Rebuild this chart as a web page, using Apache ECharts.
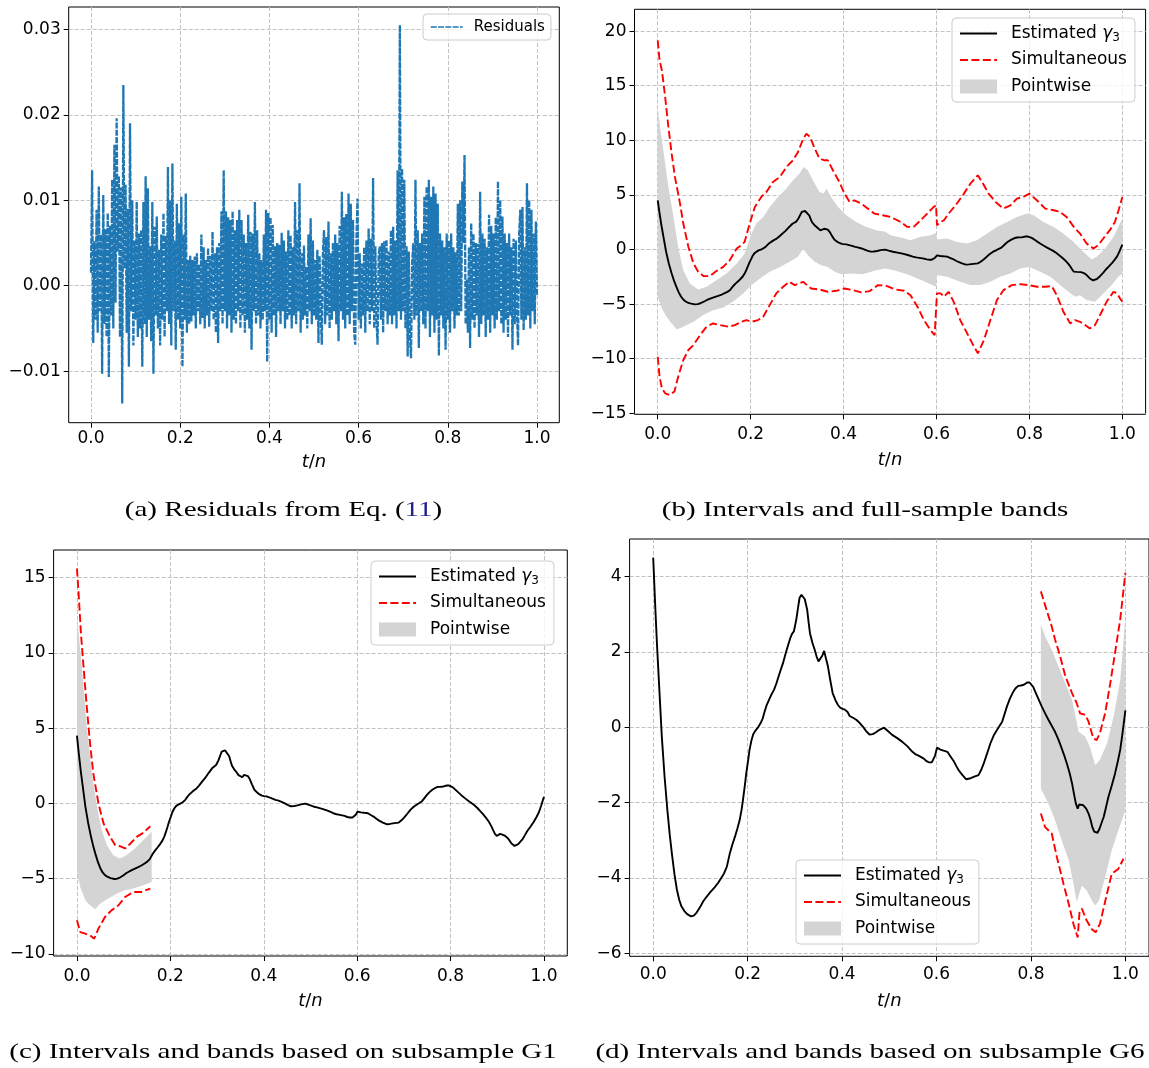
<!DOCTYPE html>
<html>
<head>
<meta charset="utf-8">
<script src="https://cdn.jsdelivr.net/npm/echarts@6/dist/echarts.min.js"></script>
<style>
  html, body { margin: 0; padding: 0; background: #fff; }
  #chart { width: 1149px; height: 1068px; }
</style>
</head>
<body>
<div id="chart"></div>
<script>
// ---------- tick values ----------
const xTicks = [0, 0.2, 0.4, 0.6, 0.8, 1.0];
const residTicks = [-0.01, 0, 0.01, 0.02, 0.03];
const fullTicks = [-15, -10, -5, 0, 5, 10, 15, 20];
const g1Ticks = [-10, -5, 0, 5, 10, 15];
const g6Ticks = [-6, -4, -2, 0, 2, 4];

// ---------- residuals of Eq. (11), evenly spaced over t/n in [0, 1] ----------
const residuals = [
  .0015,.0135,-.0067,.0052,-.0040,.0089,-.0055,.0116,-.0030,.0060,
  -.0103,.0106,-.0045,.0066,-.0060,.0085,-.0107,.0070,-.0035,.0124,
  -.0050,.0165,-.0020,.0196,.0040,.0128,-.0060,.0115,-.0138,.0235,
  .0020,.0118,-.0055,.0090,-.0095,.0190,-.0030,.0100,-.0070,.0053,
  -.0040,.0098,-.0060,.0061,-.0050,.0065,-.0095,.0098,-.0045,.0128,
  -.0060,.0114,-.0040,.0046,-.0065,.0098,-.0103,.0069,-.0035,.0081,
  -.0050,.0042,-.0070,.0060,-.0040,.0085,-.0060,.0058,-.0030,.0139,
  -.0045,.0100,-.0070,.0143,-.0030,.0053,-.0075,.0096,-.0040,.0073,
  -.0050,.0104,-.0095,.0060,-.0040,.0108,-.0055,.0030,-.0045,.0035,
  -.0042,.0030,-.0035,.0034,-.0050,.0038,-.0030,.0025,-.0045,.0060,
  -.0038,.0045,-.0050,.0030,-.0035,.0044,-.0048,.0035,-.0030,.0063,
  -.0040,.0038,-.0055,.0045,-.0067,.0050,-.0030,.0087,-.0045,.0135,
  -.0030,.0087,-.0050,.0080,-.0035,.0077,-.0055,.0087,-.0040,.0065,
  -.0045,.0077,-.0030,.0089,-.0050,.0077,-.0035,.0060,-.0055,.0050,
  -.0040,.0083,-.0050,.0063,-.0075,.0061,-.0030,.0098,-.0045,.0065,
  -.0035,.0038,-.0050,.0030,-.0040,.0060,-.0030,.0089,-.0089,.0085,
  -.0040,.0080,-.0055,.0071,-.0035,.0046,-.0060,.0050,-.0030,.0048,
  -.0045,.0062,-.0030,.0053,-.0050,.0040,-.0040,.0065,-.0035,.0059,
  -.0050,.0045,-.0035,.0098,-.0045,.0065,-.0030,.0120,-.0055,.0038,
  -.0040,.0047,-.0035,.0022,-.0050,.0060,-.0030,.0079,-.0045,.0053,
  -.0035,.0030,-.0040,.0042,-.0067,.0035,-.0030,-.0069,.0040,.0065,
  -.0045,.0057,-.0035,.0075,-.0050,.0038,-.0040,.0050,-.0030,.0060,
  -.0045,.0050,-.0065,.0070,-.0030,.0110,-.0040,.0080,-.0050,.0084,
  -.0035,.0108,-.0045,.0096,-.0030,.0077,-.0055,-.0069,.0050,.0102,
  -.0040,.0038,-.0050,.0026,-.0035,.0045,-.0055,.0053,-.0030,.0067,
  -.0045,.0055,-.0030,.0126,-.0050,.0046,-.0040,-.0069,.0035,.0046,
  -.0040,.0050,-.0055,.0052,-.0030,.0054,-.0045,.0040,-.0035,.0065,
  -.0045,.0069,-.0035,.0053,-.0050,.0135,-.0030,.0305,-.0040,.0137,
  -.0030,.0124,-.0050,.0046,-.0083,.0040,-.0060,-.0085,.0026,.0050,
  -.0040,.0124,-.0035,.0065,-.0073,.0050,-.0030,.0061,-.0045,.0104,
  -.0050,.0116,-.0030,.0124,-.0060,.0104,-.0035,.0116,-.0055,.0108,
  -.0040,.0096,-.0082,.0061,-.0035,.0053,-.0050,.0045,-.0075,.0061,
  -.0040,.0053,-.0055,.0061,-.0030,.0045,-.0050,.0039,-.0035,.0096,
  -.0035,.0100,-.0030,.0122,.0050,.0153,-.0045,.0007,-.0055,.0045,
  -.0073,.0073,-.0040,.0061,-.0050,.0050,-.0035,.0049,-.0060,.0110,
  -.0045,.0061,-.0035,.0055,-.0060,.0045,-.0040,.0083,-.0055,.0070,
  -.0035,.0061,-.0050,.0080,-.0040,.0122,-.0030,.0100,-.0045,.0081,
  -.0055,.0061,-.0040,.0050,-.0060,.0061,-.0035,.0045,-.0075,.0055,
  -.0045,.0053,-.0030,-.0070,.0060,.0089,-.0040,.0092,-.0052,.0045,
  -.0040,.0120,-.0035,.0100,-.0050,.0089,-.0030,.0061,-.0045,.0075,
  -.0012
];

// ---------- estimated gamma_3 as [t/n, value] ----------
const gammaHat = [
  [0.000,4.50],[0.004,3.30],[0.008,2.20],[0.013,1.00],[0.018,-0.20],[0.024,-1.30],
  [0.030,-2.20],[0.035,-2.85],[0.040,-3.40],[0.045,-3.90],[0.050,-4.30],[0.055,-4.58],
  [0.060,-4.76],[0.066,-4.88],[0.072,-4.96],[0.080,-5.02],[0.086,-5.00],[0.092,-4.92],
  [0.099,-4.78],[0.106,-4.62],[0.113,-4.50],[0.122,-4.36],[0.130,-4.25],[0.138,-4.12],
  [0.144,-4.00],[0.150,-3.88],[0.156,-3.70],[0.162,-3.36],[0.168,-3.10],[0.173,-2.91],
  [0.178,-2.70],[0.183,-2.47],[0.187,-2.20],[0.190,-1.94],[0.194,-1.55],[0.197,-1.23],
  [0.201,-0.88],[0.204,-0.60],[0.208,-0.35],[0.212,-0.18],[0.217,-0.08],[0.222,0.00],
  [0.227,0.10],[0.232,0.24],[0.236,0.42],[0.240,0.58],[0.245,0.72],[0.250,0.86],
  [0.256,1.00],[0.261,1.17],[0.268,1.45],[0.275,1.71],[0.280,1.94],[0.285,2.15],
  [0.290,2.36],[0.294,2.48],[0.298,2.55],[0.303,2.86],[0.307,3.20],[0.310,3.44],
  [0.314,3.52],[0.317,3.53],[0.321,3.40],[0.326,3.13],[0.329,2.80],[0.332,2.50],
  [0.337,2.25],[0.342,2.06],[0.346,1.88],[0.350,1.75],[0.354,1.74],[0.358,1.90],
  [0.362,2.03],[0.366,1.82],[0.370,1.62],[0.375,1.25],[0.380,0.91],[0.386,0.72],
  [0.391,0.60],[0.396,0.52],[0.401,0.49],[0.406,0.47],[0.412,0.40],[0.416,0.30],
  [0.420,0.31],[0.425,0.24],[0.430,0.20],[0.437,0.12],[0.444,0.02],[0.451,-0.10],
  [0.458,-0.19],[0.465,-0.18],[0.472,-0.13],[0.480,-0.06],[0.489,-0.01],[0.497,-0.10],
  [0.506,-0.20],[0.516,-0.28],[0.527,-0.38],[0.538,-0.50],[0.549,-0.65],[0.556,-0.72],
  [0.563,-0.76],[0.573,-0.83],[0.579,-0.90],[0.584,-0.93],[0.590,-0.93],[0.594,-0.88],
  [0.597,-0.75],[0.601,-0.54],[0.608,-0.59],[0.615,-0.62],[0.623,-0.65],[0.630,-0.78],
  [0.637,-0.91],[0.642,-1.03],[0.647,-1.14],[0.655,-1.27],[0.663,-1.38],[0.670,-1.36],
  [0.680,-1.31],[0.689,-1.27],[0.695,-1.12],[0.700,-0.96],[0.707,-0.70],[0.714,-0.43],
  [0.721,-0.22],[0.728,-0.07],[0.734,0.05],[0.739,0.15],[0.744,0.35],[0.749,0.55],
  [0.755,0.75],[0.761,0.91],[0.767,1.03],[0.773,1.10],[0.779,1.11],[0.785,1.13],
  [0.792,1.19],[0.797,1.19],[0.800,1.17],[0.805,1.07],[0.809,0.95],[0.816,0.75],
  [0.823,0.55],[0.830,0.37],[0.837,0.20],[0.844,0.04],[0.851,-0.12],[0.858,-0.32],
  [0.864,-0.52],[0.870,-0.73],[0.876,-0.96],[0.882,-1.22],[0.887,-1.49],[0.891,-1.76],
  [0.895,-2.02],[0.899,-2.16],[0.902,-2.05],[0.906,-2.02],[0.911,-2.07],[0.917,-2.16],
  [0.922,-2.29],[0.926,-2.45],[0.930,-2.65],[0.934,-2.77],[0.937,-2.82],[0.941,-2.80],
  [0.945,-2.70],[0.950,-2.52],[0.954,-2.38],[0.959,-2.12],[0.964,-1.85],[0.971,-1.55],
  [0.978,-1.23],[0.984,-0.90],[0.989,-0.60],[0.994,-0.15],[1.000,0.45]
];

// ---------- full-sample bands ----------
const fullSimUpper = [
  [0,19.15],[0.004,17.3],[0.009,16.4],[0.016,13.96],[0.023,11.2],[0.030,8.78],[0.037,6.65],
  [0.048,4.2],[0.055,2.38],[0.066,0.24],[0.077,-1.28],[0.087,-2.04],[0.099,-2.44],[0.112,-2.44],
  [0.127,-1.95],[0.141,-1.59],[0.155,-0.98],[0.170,0.09],[0.180,0.40],[0.187,0.70],[0.198,2.38],
  [0.209,3.9],[0.223,4.82],[0.234,5.27],[0.248,6.19],[0.263,6.65],[0.277,7.56],[0.291,8.17],
  [0.302,8.93],[0.313,10.15],[0.320,10.6],[0.328,10.3],[0.338,9.24],[0.348,8.32],[0.359,8.17],
  [0.366,8.17],[0.377,7.26],[0.391,6.19],[0.402,5.12],[0.413,4.36],[0.423,4.51],[0.438,4.21],
  [0.452,3.75],[0.466,3.29],[0.484,3.14],[0.499,3.0],[0.508,2.84],[0.523,2.53],[0.537,2.07],
  [0.551,2.07],[0.566,2.68],[0.580,3.29],[0.594,3.9],[0.599,4.05],[0.601,2.23],[0.609,2.53],
  [0.616,2.68],[0.626,3.29],[0.641,4.05],[0.659,5.12],[0.673,6.04],[0.689,6.80],[0.698,6.19],
  [0.712,5.12],[0.727,4.36],[0.744,3.75],[0.759,4.05],[0.773,4.66],[0.787,4.82],[0.800,5.12],
  [0.816,4.51],[0.834,3.75],[0.852,3.6],[0.866,3.45],[0.880,2.99],[0.898,1.92],[0.909,1.46],
  [0.923,0.55],[0.938,0.09],[0.948,0.40],[0.959,1.01],[0.973,1.77],[0.984,2.53],[0.993,3.75],
  [1.0,4.82]
];
const fullSimLower = [
  [0,-9.82],[0.004,-11.65],[0.009,-12.71],[0.016,-13.17],[0.026,-13.32],[0.036,-13.0],
  [0.044,-11.65],[0.055,-10.12],[0.066,-9.2],[0.077,-8.75],[0.091,-7.84],[0.105,-7.07],
  [0.119,-6.77],[0.134,-6.92],[0.152,-7.07],[0.166,-6.92],[0.180,-6.62],[0.191,-6.46],
  [0.202,-6.62],[0.216,-6.46],[0.227,-6.16],[0.241,-5.09],[0.255,-4.02],[0.270,-3.41],
  [0.283,-2.96],[0.295,-3.26],[0.313,-2.96],[0.330,-3.57],[0.348,-3.66],[0.366,-3.87],
  [0.384,-3.78],[0.402,-3.57],[0.420,-3.72],[0.438,-3.93],[0.456,-3.81],[0.474,-3.26],
  [0.490,-3.3],[0.512,-3.66],[0.530,-3.78],[0.544,-4.18],[0.559,-5.24],[0.573,-6.46],
  [0.587,-7.38],[0.596,-7.84],[0.601,-4.02],[0.609,-4.02],[0.616,-4.33],[0.626,-3.87],
  [0.637,-4.79],[0.651,-6.46],[0.666,-7.68],[0.677,-8.6],[0.689,-9.51],[0.702,-8.29],
  [0.716,-6.46],[0.730,-4.63],[0.744,-3.72],[0.762,-3.26],[0.780,-3.17],[0.798,-3.26],
  [0.816,-3.41],[0.834,-3.41],[0.848,-3.35],[0.859,-4.18],[0.873,-5.70],[0.888,-6.77],
  [0.898,-6.46],[0.909,-6.62],[0.920,-6.92],[0.930,-7.23],[0.941,-6.92],[0.952,-6.0],
  [0.966,-4.79],[0.981,-3.87],[0.989,-4.02],[0.995,-4.48],[1.0,-4.79]
];
const fullPwUpper = [
  [0,13.05],[0.005,11.2],[0.012,9.09],[0.023,5.73],[0.034,2.99],[0.044,0.24],[0.055,-1.89],
  [0.069,-3.11],[0.087,-3.66],[0.105,-3.41],[0.127,-2.80],[0.148,-2.20],[0.170,-1.28],
  [0.187,-0.37],[0.202,1.46],[0.212,2.38],[0.227,2.99],[0.241,3.90],[0.259,4.82],[0.277,5.58],
  [0.291,6.34],[0.305,6.95],[0.314,7.56],[0.323,7.26],[0.334,6.34],[0.348,5.27],[0.357,5.12],
  [0.363,5.58],[0.373,4.82],[0.388,3.90],[0.406,3.14],[0.427,2.53],[0.449,2.07],[0.470,1.77],
  [0.490,1.62],[0.501,1.31],[0.523,1.10],[0.544,0.85],[0.566,1.16],[0.587,1.31],[0.599,1.52],
  [0.601,0.91],[0.623,1.01],[0.644,0.70],[0.666,0.55],[0.687,0.85],[0.709,1.46],[0.730,2.07],
  [0.752,2.53],[0.773,2.99],[0.795,3.29],[0.809,3.14],[0.830,2.53],[0.852,2.07],[0.873,1.46],
  [0.895,0.70],[0.916,-0.21],[0.934,-0.91],[0.945,-0.67],[0.963,0.09],[0.981,1.16],
  [0.991,2.07],[1.0,2.84]
];
const fullPwLower = [
  [0,-4.33],[0.009,-5.4],[0.019,-6.16],[0.030,-6.77],[0.041,-7.32],[0.055,-7.07],[0.077,-6.62],
  [0.098,-6.0],[0.119,-5.55],[0.141,-5.30],[0.162,-4.79],[0.184,-4.02],[0.202,-3.26],
  [0.220,-2.65],[0.241,-2.04],[0.263,-1.59],[0.284,-1.13],[0.302,-0.67],[0.313,0.09],
  [0.323,-0.52],[0.338,-1.13],[0.352,-1.43],[0.366,-1.59],[0.381,-2.04],[0.395,-2.26],
  [0.416,-2.20],[0.441,-2.26],[0.470,-1.89],[0.490,-1.74],[0.508,-1.89],[0.537,-2.26],
  [0.559,-2.65],[0.580,-3.05],[0.599,-3.41],[0.601,-2.35],[0.623,-2.50],[0.651,-2.96],
  [0.673,-3.26],[0.694,-3.26],[0.716,-2.96],[0.737,-2.50],[0.759,-2.20],[0.780,-1.74],
  [0.800,-1.59],[0.823,-2.04],[0.845,-2.50],[0.866,-3.26],[0.884,-3.87],[0.898,-4.33],
  [0.909,-4.18],[0.923,-4.63],[0.941,-4.79],[0.959,-4.02],[0.977,-3.26],[0.991,-2.50],
  [1.0,-2.20]
];

// ---------- subsample G1 bands ----------
const g1SimUpper = [
  [0,15.6],[0.0035,13.97],[0.0085,11.3],[0.014,9.1],[0.021,6.43],[0.028,3.99],[0.035,2.0],
  [0.046,0],[0.057,-1.33],[0.071,-2.22],[0.082,-2.77],[0.092,-2.84],[0.103,-2.99],
  [0.113,-2.71],[0.128,-2.22],[0.142,-1.95],[0.157,-1.51]
];
const g1SimLower = [
  [0,-7.76],[0.007,-8.54],[0.018,-8.65],[0.028,-8.76],[0.037,-8.98],[0.046,-8.31],
  [0.060,-7.54],[0.074,-7.10],[0.089,-6.76],[0.103,-6.21],[0.121,-5.88],[0.138,-5.88],
  [0.157,-5.65]
];
const g1PwUpper = [
  [0,12.5],[0.007,10.2],[0.014,7.76],[0.021,5.1],[0.032,2.0],[0.043,-0.22],[0.053,-1.77],
  [0.064,-2.77],[0.078,-3.44],[0.092,-3.66],[0.106,-3.44],[0.124,-2.99],[0.142,-2.44],
  [0.160,-1.88]
];
const g1PwLower = [
  [0,-4.55],[0.007,-5.54],[0.018,-6.43],[0.028,-6.76],[0.039,-7.03],[0.050,-6.65],
  [0.067,-6.32],[0.085,-5.99],[0.103,-5.76],[0.121,-5.65],[0.142,-5.43],[0.160,-5.21]
];

// ---------- subsample G6 bands ----------
const g6SimUpper = [
  [0.821,3.61],[0.834,3.08],[0.844,2.68],[0.851,2.33],[0.862,1.88],[0.873,1.35],[0.887,0.91],
  [0.897,0.64],[0.904,0.37],[0.915,0.33],[0.922,0.15],[0.932,-0.29],[0.939,-0.34],
  [0.946,-0.16],[0.957,0.37],[0.968,1.17],[0.978,1.97],[0.989,2.86],[1.0,4.10]
];
const g6SimLower = [
  [0.821,-2.29],[0.830,-2.65],[0.844,-2.82],[0.855,-3.45],[0.869,-4.16],[0.880,-4.69],
  [0.890,-5.22],[0.899,-5.58],[0.903,-4.87],[0.908,-4.82],[0.918,-5.13],[0.929,-5.36],
  [0.937,-5.44],[0.946,-5.22],[0.961,-4.42],[0.971,-3.89],[0.985,-3.76],[0.996,-3.49]
];
const g6PwUpper = [
  [0.821,2.73],[0.830,2.42],[0.844,2.06],[0.858,1.62],[0.873,1.17],[0.887,0.73],[0.901,-0.12],
  [0.915,-0.25],[0.925,-0.52],[0.936,-1.00],[0.946,-0.87],[0.961,-0.43],[0.975,0.28],
  [0.989,1.26],[0.996,2.3],[1.0,3.0]
];
const g6PwLower = [
  [0.821,-1.63],[0.837,-2.02],[0.851,-2.47],[0.865,-3.0],[0.880,-3.53],[0.890,-4.16],
  [0.897,-4.64],[0.902,-4.42],[0.908,-4.2],[0.918,-4.33],[0.929,-4.6],[0.936,-4.73],
  [0.944,-4.6],[0.957,-3.98],[0.971,-3.27],[0.985,-2.74],[1.0,-2.2]
];

// ---------- styling helpers ----------
const SANS = 'DejaVu Sans';
const GAMMA = 'Estimated γ3';
const BAND = '#d4d4d4';
const NO_MARKER = { opacity: 0 };

function signed(v, d) {
  const s = Math.abs(v).toFixed(d);
  return v < -1e-12 ? '\u2212' + s : s;
}
const gridLine = { show: true, lineStyle: { color: '#c2c2c2', width: 1, type: [4, 2] } };

function xAxisFor(gi, margin, nameGap) {
  return {
    type: 'value', gridIndex: gi, min: -0.05, max: 1.05,
    axisLine: { show: false, onZero: false },
    axisTick: { show: true, length: 5, customValues: xTicks, lineStyle: { color: '#000', width: 1 } },
    axisLabel: { customValues: xTicks, formatter: v => signed(v, 1), fontSize: 17, fontFamily: SANS, color: '#000', margin: margin },
    splitLine: gridLine,
    name: '{i|t}/{i|n}', nameLocation: 'middle', nameGap: nameGap,
    nameTextStyle: {
      fontSize: 18, fontFamily: SANS, color: '#000',
      rich: { i: { fontStyle: 'italic', fontSize: 18, fontFamily: SANS, color: '#000' } }
    }
  };
}
function yAxisFor(gi, min, max, ticks, dec) {
  return {
    type: 'value', gridIndex: gi, min: min, max: max,
    axisLine: { show: false, onZero: false },
    axisTick: { show: true, length: 5, customValues: ticks, lineStyle: { color: '#000', width: 1 } },
    axisLabel: { customValues: ticks, formatter: v => signed(v, dec), fontSize: 17, fontFamily: SANS, color: '#000', margin: 8 },
    splitLine: gridLine
  };
}
function lineSeries(name, data, gi, color, width, dash, z) {
  return {
    type: 'line', name: name, xAxisIndex: gi, yAxisIndex: gi, data: data,
    symbol: 'none', silent: true, z: z,
    lineStyle: { color: color, width: width, type: dash },
    itemStyle: { color: color }
  };
}
// shaded pointwise band: polygon through the upper edge and back along the lower edge
function bandSeries(upper, lower, gi) {
  return {
    type: 'custom', name: 'Pointwise', xAxisIndex: gi, yAxisIndex: gi,
    data: [upper[0]], silent: true, z: 1, clip: true,
    itemStyle: { color: BAND },
    renderItem: function (params, api) {
      const pts = upper.map(p => api.coord(p))
        .concat(lower.slice().reverse().map(p => api.coord(p)));
      return { type: 'polygon', shape: { points: pts }, style: { fill: BAND } };
    }
  };
}
const RED_DASH = [8, 3.4];
function panelSeries(gi, simU, simL, pwU, pwL) {
  return [
    bandSeries(pwU, pwL, gi),
    lineSeries(GAMMA, gammaHat, gi, '#000', 1.9, 'solid', 3),
    lineSeries('Simultaneous', simU, gi, '#ff0000', 1.9, RED_DASH, 4),
    lineSeries('Simultaneous', simL, gi, '#ff0000', 1.9, RED_DASH, 4)
  ];
}
function bandLegend(left, top) {
  return {
    orient: 'vertical', left: left, top: top, selectedMode: false,
    data: [
      { name: GAMMA, itemStyle: NO_MARKER },
      { name: 'Simultaneous', itemStyle: NO_MARKER },
      { name: 'Pointwise', icon: 'rect' }
    ],
    itemWidth: 37, itemHeight: 14, itemGap: 6.5,
    padding: [5.5, 8, 5.5, 7],
    backgroundColor: 'rgba(255,255,255,0.8)', borderColor: '#cccccc', borderWidth: 1, borderRadius: 4,
    lineStyle: { width: 2 },
    formatter: name => name === GAMMA ? 'Estimated {g|γ}{s|3}' : name,
    textStyle: {
      fontSize: 17, fontFamily: SANS, color: '#000', lineHeight: 20, padding: [0, 0, 0, 9],
      rich: {
        g: { fontSize: 17, fontFamily: SANS, fontStyle: 'italic', color: '#000', lineHeight: 20 },
        s: { fontSize: 12, fontFamily: SANS, color: '#000', padding: [8, 0, 0, 0], lineHeight: 20 }
      }
    }
  };
}
function caption(x, y, text) {
  return {
    type: 'text', x: x, y: y, scaleX: 1.32, silent: true,
    style: {
      text: text, fontFamily: 'Liberation Serif', fontSize: 22, fill: '#000',
      align: 'center', verticalAlign: 'middle',
      rich: { lnk: { fill: '#22228b', fontFamily: 'Liberation Serif', fontSize: 22 } }
    }
  };
}

const gridBox = { show: true, borderColor: '#000', borderWidth: 1, backgroundColor: '#fff' };

const option = {
  animation: false,
  backgroundColor: '#fff',
  grid: [
    Object.assign({ left: 68.7, top: 7, width: 490.6, height: 415.7 }, gridBox),
    Object.assign({ left: 634.5, top: 9.3, width: 511.1, height: 405 }, gridBox),
    Object.assign({ left: 53.6, top: 550, width: 513.7, height: 406 }, gridBox),
    Object.assign({ left: 629.6, top: 539, width: 521.1, height: 417.3 }, gridBox)
  ],
  xAxis: [xAxisFor(0, 7, 31), xAxisFor(1, 12, 37), xAxisFor(2, 12, 36), xAxisFor(3, 10, 36)],
  yAxis: [
    yAxisFor(0, -0.01604, 0.03262, residTicks, 2),
    yAxisFor(1, -15.09, 22.0, fullTicks, 0),
    yAxisFor(2, -10.13, 16.83, g1Ticks, 0),
    yAxisFor(3, -6.08, 5.0, g6Ticks, 0)
  ],
  legend: [
    {
      left: 423, top: 14, selectedMode: false,
      data: [{ name: 'Residuals', itemStyle: NO_MARKER }],
      itemWidth: 32, itemHeight: 10, padding: [4, 6, 4, 7],
      backgroundColor: 'rgba(255,255,255,0.8)', borderColor: '#cccccc', borderWidth: 1, borderRadius: 4,
      lineStyle: { width: 1.5 },
      textStyle: { fontSize: 15, fontFamily: SANS, color: '#000', lineHeight: 18, padding: [0, 0, 0, 6] }
    },
    bandLegend(952, 18),
    bandLegend(371, 561),
    bandLegend(796, 860)
  ],
  series: [
    lineSeries('Residuals', residuals.map((v, i) => [i / (residuals.length - 1), v]), 0, '#1f77b4', 2.3, [6, 1.3], 2)
  ]
    .concat(panelSeries(1, fullSimUpper, fullSimLower, fullPwUpper, fullPwLower))
    .concat(panelSeries(2, g1SimUpper, g1SimLower, g1PwUpper, g1PwLower))
    .concat(panelSeries(3, g6SimUpper, g6SimLower, g6PwUpper, g6PwLower)),
  graphic: [
    caption(283.5, 510, '(a) Residuals from Eq. ({lnk|11})'),
    caption(865, 510, '(b) Intervals and full-sample bands'),
    caption(283, 1052, '(c) Intervals and bands based on subsample G1'),
    caption(870, 1052, '(d) Intervals and bands based on subsample G6')
  ]
};

const chart = echarts.init(document.getElementById('chart'), null, { renderer: 'canvas' });
chart.setOption(option);
</script>
</body>
</html>
